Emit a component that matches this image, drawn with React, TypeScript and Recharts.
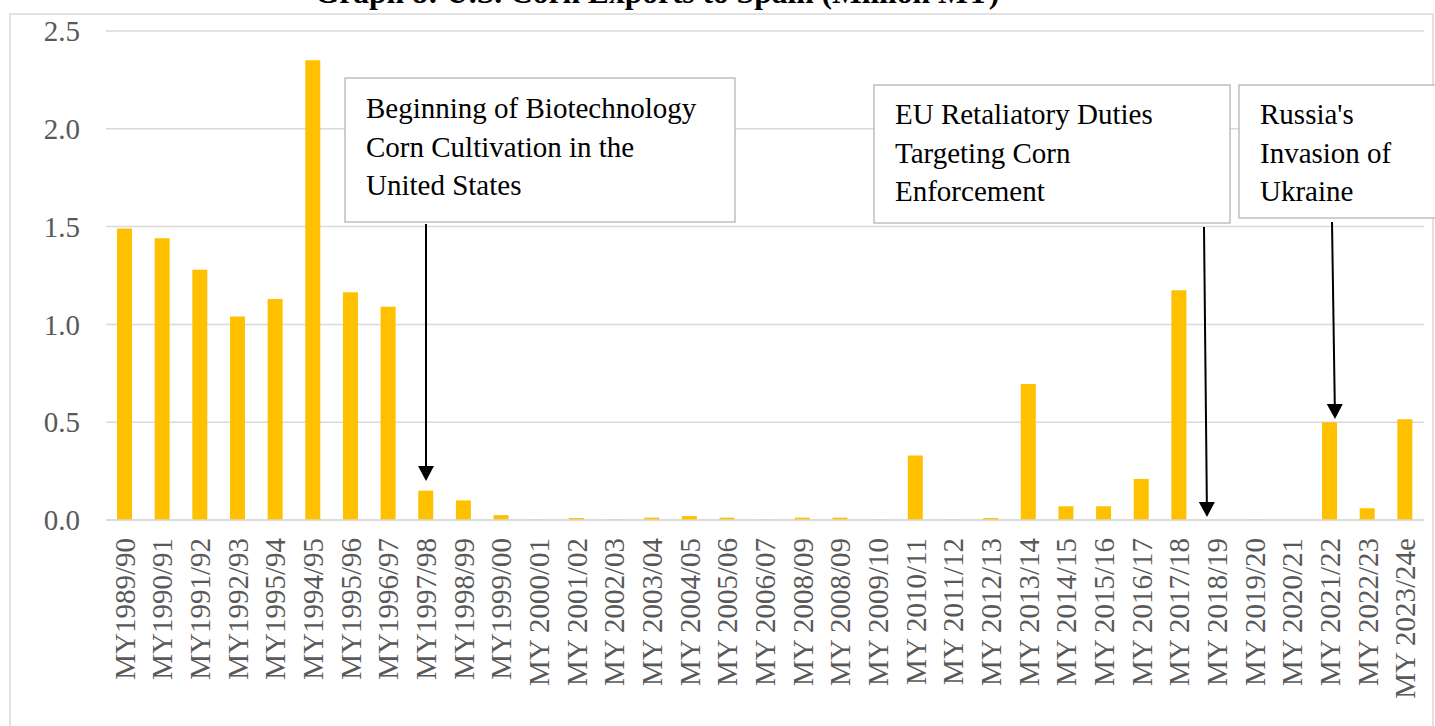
import { Bar, BarChart, CartesianGrid, XAxis, YAxis } from 'recharts'

const SERIF = '"Liberation Serif", "Times New Roman", serif'

const categories = [
  'MY1989/90',
  'MY1990/91',
  'MY1991/92',
  'MY1992/93',
  'MY1995/94',
  'MY1994/95',
  'MY1995/96',
  'MY1996/97',
  'MY1997/98',
  'MY1998/99',
  'MY1999/00',
  'MY 2000/01',
  'MY 2001/02',
  'MY 2002/03',
  'MY 2003/04',
  'MY 2004/05',
  'MY 2005/06',
  'MY 2006/07',
  'MY 2008/09',
  'MY 2008/09',
  'MY 2009/10',
  'MY 2010/11',
  'MY 2011/12',
  'MY 2012/13',
  'MY 2013/14',
  'MY 2014/15',
  'MY 2015/16',
  'MY 2016/17',
  'MY 2017/18',
  'MY 2018/19',
  'MY 2019/20',
  'MY 2020/21',
  'MY 2021/22',
  'MY 2022/23',
  'MY 2023/24e',
]

// million MT
const exportsMMT = [
  1.49, 1.44, 1.28, 1.04, 1.13, 2.35, 1.165, 1.09, 0.15, 0.1, 0.025, 0.002,
  0.01, 0.003, 0.012, 0.02, 0.012, 0.002, 0.012, 0.012, 0.002, 0.33, 0.002,
  0.01, 0.695, 0.07, 0.07, 0.21, 1.175, 0, 0.002, 0, 0.5, 0.06, 0.515,
]

const yTicks = [0, 0.5, 1, 1.5, 2, 2.5]

const data = categories.map((label, idx) => ({ idx, label, value: exportsMMT[idx] }))

function CategoryTick(props: any) {
  const { x, y, payload } = props
  return (
    <text
      x={x}
      y={y}
      transform={`rotate(-90 ${x} ${y})`}
      textAnchor="end"
      dominantBaseline="central"
      fill="#595959"
      fontSize={29}
      fontFamily={SERIF}
    >
      {categories[payload.value]}
    </text>
  )
}

type Note = {
  x: number
  y: number
  w: number
  h: number
  lines: string[]
  firstBaseline: number
}

const notes: Note[] = [
  {
    x: 345,
    y: 78,
    w: 390,
    h: 144,
    lines: ['Beginning of Biotechnology', 'Corn Cultivation in the', 'United States'],
    firstBaseline: 118,
  },
  {
    x: 874,
    y: 85,
    w: 356,
    h: 138,
    lines: ['EU Retaliatory Duties', 'Targeting Corn', 'Enforcement'],
    firstBaseline: 124,
  },
  {
    x: 1239,
    y: 85,
    w: 210,
    h: 133,
    lines: ["Russia's", 'Invasion of', 'Ukraine'],
    firstBaseline: 124,
  },
]

const arrows = [
  { x1: 426, y1: 224, x2: 426, y2: 481 },
  { x1: 1204, y1: 227, x2: 1207, y2: 517 },
  { x1: 1332, y1: 222, x2: 1335, y2: 419 },
]

function Arrow({ x1, y1, x2, y2 }: { x1: number; y1: number; x2: number; y2: number }) {
  const head = 15
  const len = Math.hypot(x2 - x1, y2 - y1)
  const ux = (x2 - x1) / len
  const uy = (y2 - y1) / len
  const bx = x2 - ux * head
  const by = y2 - uy * head
  const px = -uy * 8
  const py = ux * 8
  return (
    <g>
      <line x1={x1} y1={y1} x2={bx} y2={by} stroke="#000" strokeWidth={2} />
      <polygon points={`${x2},${y2} ${bx + px},${by + py} ${bx - px},${by - py}`} fill="#000" />
    </g>
  )
}

export default function App() {
  return (
    <div style={{ position: 'absolute', left: 0, top: 0, width: 1435, height: 726, background: '#fff' }}>
      <BarChart
        width={1435}
        height={726}
        data={data}
        margin={{ top: 31, right: 11, left: 0, bottom: 30 }}
        barCategoryGap={0}
      >
        <CartesianGrid vertical={false} stroke="#d9d9d9" strokeWidth={1.5} />
        <XAxis
          dataKey="idx"
          interval={0}
          height={176}
          tick={<CategoryTick />}
          tickLine={false}
          tickSize={0}
          tickMargin={18}
          axisLine={{ stroke: '#d9d9d9', strokeWidth: 1.5 }}
        />
        <YAxis
          width={106}
          domain={[0, 2.5]}
          ticks={yTicks}
          tickFormatter={(v: number) => v.toFixed(1)}
          tick={{ fill: '#595959', fontSize: 29, fontFamily: SERIF }}
          tickLine={false}
          tickSize={0}
          tickMargin={26}
          axisLine={false}
        />
        <Bar dataKey="value" fill="#FFC000" barSize={15} isAnimationActive={false} />
      </BarChart>
      <svg
        width={1435}
        height={726}
        style={{ position: 'absolute', left: 0, top: 0, pointerEvents: 'none' }}
      >
        <rect x={10} y={14} width={1423} height={730} fill="none" stroke="#d9d9d9" strokeWidth={1.5} />
        <text
          x={657}
          y={3}
          textAnchor="middle"
          fontSize={31.5}
          fontWeight="bold"
          fontFamily={SERIF}
          fill="#000"
        >
          Graph 8: U.S. Corn Exports to Spain (Million MT)
        </text>
        {notes.map((n) => (
          <g key={n.lines[0]}>
            <rect x={n.x} y={n.y} width={n.w} height={n.h} fill="#fff" stroke="#bfbfbf" strokeWidth={1.5} />
            {n.lines.map((line, i) => (
              <text
                key={line}
                x={n.x + 21}
                y={n.firstBaseline + i * 38.5}
                fontSize={29}
                fontFamily={SERIF}
                fill="#000"
              >
                {line}
              </text>
            ))}
          </g>
        ))}
        {arrows.map((a, i) => (
          <Arrow key={i} {...a} />
        ))}
      </svg>
    </div>
  )
}
